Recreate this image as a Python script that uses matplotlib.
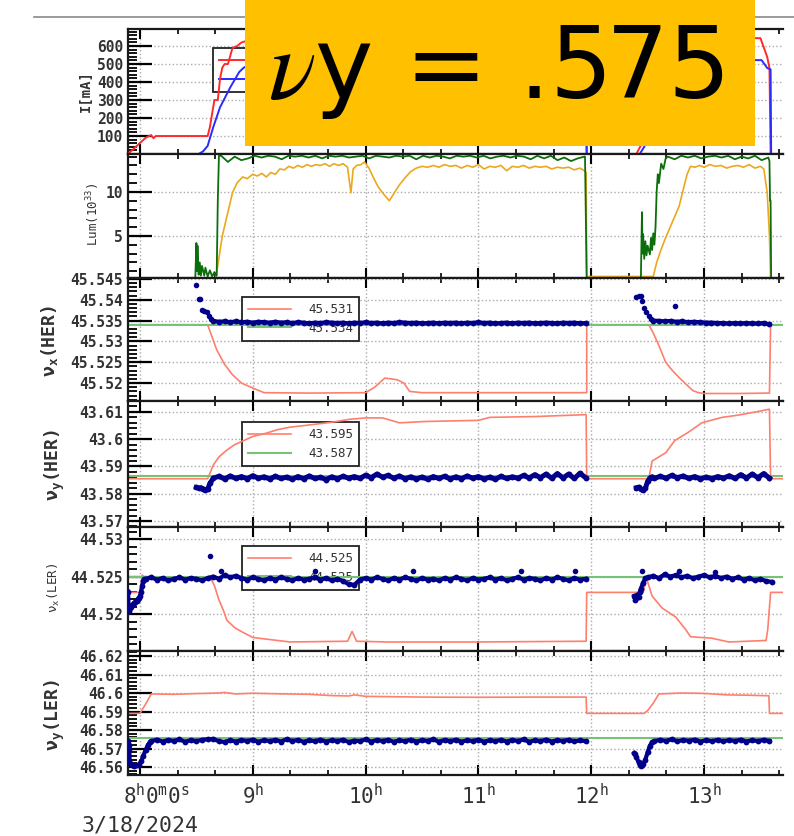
import matplotlib
matplotlib.use("Agg")
import matplotlib.pyplot as plt
import numpy as np
from matplotlib.patches import Rectangle
from matplotlib.lines import Line2D
from matplotlib.ticker import MultipleLocator, FuncFormatter

# ─── Data (time in hours on 3/18/2024) ─────────────────────────────────

# beam currents [mA]
ler_cur_t = [7.894, 8.05, 8.08, 8.10, 8.12, 8.14, 8.60, 8.62, 8.66, 8.69, 8.71, 8.73, 8.75,
             8.78, 8.82, 8.86, 8.90, 9.00, 9.5, 10.0, 11.0, 11.95, 11.96, 12.40, 12.45,
             12.50, 12.60, 12.70, 12.80, 13.00, 13.50, 13.56, 13.58, 13.59, 13.70]
ler_cur = [0, 90, 100, 105, 88, 100, 100, 150, 300, 300, 420, 480, 500,
           500, 590, 600, 620, 640, 645, 640, 642, 640, 0, 0, 60,
           200, 400, 560, 630, 645, 644, 540, 478, 0, 0]
her_cur_t = [7.894, 8.52, 8.56, 8.60, 8.65, 8.71, 8.80, 8.88, 8.92, 9.00, 10.0, 11.0, 11.95,
             11.96, 12.43, 12.47, 12.55, 12.65, 12.75, 12.85, 13.0, 13.51, 13.56, 13.59,
             13.595, 13.70]
her_cur = [0, 0, 15, 45, 150, 260, 370, 456, 480, 505, 522, 521, 520,
           0, 0, 40, 150, 300, 420, 500, 520, 522, 478, 470,
           0, 0]

# luminosity [1e33]
lum_orange_t = [7.894, 8.67, 8.70, 8.73, 8.77, 8.80, 8.82, 8.86, 8.91, 8.95, 9.00, 9.04, 9.08,
                9.12, 9.16, 9.20, 9.24, 9.28, 9.32, 9.36, 9.40, 9.44, 9.48, 9.52, 9.56, 9.60,
                9.64, 9.68, 9.72, 9.76, 9.80, 9.84, 9.87, 9.89, 9.92, 9.96, 9.99, 10.03, 10.07,
                10.11, 10.15, 10.19, 10.21, 10.25, 10.30, 10.35, 10.40, 10.45, 10.50, 10.55,
                10.60, 10.65, 10.70, 10.75, 10.80, 10.85, 10.90, 10.95, 11.00, 11.05, 11.10,
                11.15, 11.20, 11.25, 11.30, 11.35, 11.40, 11.45, 11.50, 11.55, 11.60, 11.65,
                11.70, 11.75, 11.80, 11.85, 11.90, 11.94, 11.955, 11.96, 12.55, 12.58, 12.62,
                12.66, 12.70, 12.74, 12.78, 12.82, 12.85, 12.88, 12.92, 12.96, 13.00, 13.05,
                13.10, 13.15, 13.20, 13.25, 13.30, 13.35, 13.40, 13.45, 13.50, 13.53, 13.56,
                13.58, 13.59, 13.70]
lum_orange = [0.0, 0.0, 2.5, 5.0, 7.2, 8.8, 9.9, 11.0, 11.7, 11.5, 12.0, 11.8, 12.1,
              11.7, 12.2, 12.0, 12.6, 12.5, 12.9, 12.7, 13.0, 12.8, 13.1, 12.9, 13.1, 13.0,
              13.2, 12.9, 13.2, 13.0, 13.2, 12.8, 9.9, 12.6, 13.0, 13.1, 13.4, 12.7, 11.6,
              10.6, 9.9, 9.3, 9.0, 9.8, 10.8, 11.6, 12.3, 12.7, 12.9, 12.8,
              13.0, 12.8, 13.1, 12.9, 13.0, 12.7, 13.0, 12.8, 13.1, 12.6, 12.9,
              12.8, 13.0, 12.4, 12.9, 12.8, 13.0, 12.7, 12.9, 12.8, 12.9, 12.6,
              12.8, 12.7, 12.8, 12.5, 12.7, 12.4, 12.2, 0.4, 0.4, 2.0, 3.5,
              4.8, 6.0, 7.2, 8.4, 10.5, 12.0, 12.9, 12.8, 13.0, 12.8, 13.1,
              12.9, 13.0, 12.7, 12.9, 13.0, 12.8, 13.1, 12.7, 12.9, 12.6, 9.9,
              5.0, 0.0, 0.0]
lum_green_t1 = [7.894, 8.49, 8.50, 8.505, 8.51, 8.52, 8.53, 8.54, 8.55, 8.57, 8.58, 8.60,
                8.62, 8.64, 8.66, 8.68, 8.69, 8.70]
lum_green_v1 = [0, 0, 4.2, 1.0, 3.9, 0.6, 2.0, 0.5, 1.6, 0.5, 1.4, 0.4,
                1.1, 0.4, 0.9, 0.5, 9.0, 14.1]
lum_green_a = [14.1, 13.4, 14.0, 13.6, 13.8, 14.1, 13.9, 14.1, 14.0, 13.7, 14.1, 14.0, 14.1,
               13.9, 14.1, 13.8, 14.1, 14.0, 14.1, 13.9, 14.0, 14.1, 13.8, 14.1, 14.0, 13.9,
               14.1, 14.0, 14.1, 13.7, 14.1, 13.9, 14.1, 14.0, 13.8, 14.1, 14.0, 14.1, 13.9,
               14.1, 13.8, 14.0, 14.1, 13.9, 14.1, 14.0, 13.7, 14.1, 13.8, 14.1, 13.6, 13.9,
               13.5, 13.8, 14.0]
lum_green_t2 = [11.945, 11.96, 12.44, 12.45, 12.455, 12.46, 12.47, 12.48, 12.49, 12.50,
                12.52, 12.53, 12.54, 12.55, 12.56, 12.57, 12.58, 12.59, 12.60, 12.62, 12.64,
                12.66]
lum_green_v2 = [14.0, 0, 0, 7.7, 3.0, 5.2, 2.4, 4.4, 2.8, 3.9,
                2.9, 4.8, 3.4, 5.3, 4.0, 6.0, 10.0, 12.0, 11.0, 13.2, 12.6,
                13.8]
lum_green_b = [14.0, 13.7, 14.1, 13.9, 14.1, 13.8, 14.0, 14.1, 13.9, 14.1, 13.7, 14.0,
               13.8, 14.1, 13.6, 13.9]
lum_green_t3 = [13.58, 13.585, 13.59, 13.595, 13.70]
lum_green_v3 = [13.5, 9.0, 9.0, 0, 0]

# nu_x(HER): set value (red), reference (green), measured (blue, offsets in 1e-4 from base)
her_nux_legend = ["45.531", "45.534"]
her_nux_ref = 45.534
her_nux_set_t = [7.894, 8.60, 8.64, 8.68, 8.75, 8.82, 8.90, 9.00, 9.10, 9.50, 10.00, 10.08,
                 10.17, 10.28, 10.34, 10.39, 10.50, 11.00, 11.96, 11.96, 12.51, 12.55, 12.60,
                 12.66, 12.72, 12.78, 12.85, 12.90, 12.95, 13.00, 13.30, 13.58, 13.59, 13.70]
her_nux_set = [45.534, 45.534, 45.531, 45.528, 45.5245, 45.522, 45.520, 45.5188, 45.5177,
               45.5176, 45.5177, 45.519, 45.5212, 45.5208, 45.520, 45.518, 45.5177, 45.5177,
               45.5177, 45.534, 45.534, 45.532, 45.529, 45.525, 45.523, 45.5213, 45.5195,
               45.5182, 45.5177, 45.5175, 45.5175, 45.5176, 45.534, 45.534]
her_nux_base = 45.534
her_nux_t1 = [8.50, 8.52, 8.53, 8.55, 8.57, 8.59, 8.61, 8.63, 12.40, 12.42, 12.44, 12.45,
              12.47, 12.49, 12.51, 12.53, 12.74]
her_nux_v1 = [95, 61, 62, 36, 34, 31, 22, 14, 67, 68, 69, 57,
              40, 30, 22, 14, 45]
her_nux_a = [9, 7, 8, 6, 8, 6, 7, 5, 7, 6, 5, 7, 5, 6, 4, 6, 5, 3, 5, 4,
             6, 5, 4, 5, 3, 5, 4, 6, 4, 5, 3, 5, 4, 6, 5, 4, 5, 3, 4, 5,
             3, 5, 4, 5, 3, 5, 4, 6, 4, 5, 3, 4, 5, 3, 5, 4, 5, 3, 4, 5,
             4, 3, 5, 4, 5, 3, 4]
her_nux_b = [10, 9, 8, 9, 7, 8, 6, 7, 6, 5, 5, 4, 4, 3, 4, 3, 4, 3, 3, 4, 1]

# nu_y(HER)
her_nuy_legend = ["43.595", "43.587"]
her_nuy_ref = 43.5865
her_nuy_set_t = [7.894, 8.60, 8.62, 8.65, 8.70, 8.77, 8.84, 8.91, 9.00, 9.12, 9.22, 9.33,
                 9.50, 9.70, 9.86, 10.00, 10.15, 10.30, 10.54, 11.00, 11.10, 11.50, 11.83,
                 11.955, 11.96, 12.51, 12.54, 12.60, 12.66, 12.74, 12.86, 12.98, 13.16, 13.30,
                 13.46, 13.58, 13.59, 13.70]
her_nuy_set = [43.5855, 43.5855, 43.5875, 43.5905, 43.5935, 43.596, 43.598, 43.5993, 43.601,
               43.6022, 43.6035, 43.6044, 43.6052, 43.6062, 43.6073, 43.6078, 43.6078,
               43.606, 43.6065, 43.6069, 43.608, 43.6083, 43.6088, 43.609, 43.5855, 43.5855,
               43.592, 43.5935, 43.595, 43.5995, 43.6025, 43.606, 43.608, 43.6088, 43.61,
               43.611, 43.5855, 43.5855]
her_nuy_base = 43.58
her_nuy_t1 = [8.50, 8.52, 8.54, 8.56, 8.58, 8.60, 8.62]
her_nuy_v1 = [23, 21, 22, 18, 13, 16, 38]
her_nuy_a = [57, 64, 54, 65, 56, 63, 55, 66, 57, 62, 54, 64, 56, 61, 53, 63, 55, 65, 56, 60,
             52, 62, 55, 64, 57, 63, 56, 68, 59, 72, 61, 67, 57, 65, 55, 62, 54, 61, 53, 63,
             56, 64, 54, 62, 55, 65, 57, 63, 54, 61, 53, 64, 56, 62, 57, 67, 58, 70, 59, 72,
             57, 74, 58, 72, 56, 75, 59]
her_nuy_t2 = [12.40, 12.42, 12.44, 12.46, 12.48, 12.50, 12.52, 12.54]
her_nuy_v2 = [22, 24, 17, 12, 20, 45, 58, 62]
her_nuy_b = [56, 64, 57, 67, 59, 65, 56, 63, 54, 61, 55, 63, 57, 66, 56, 70, 58, 72, 59, 74, 57]

# nu_x(LER)
ler_nux_legend = ["44.525", "44.525"]
ler_nux_ref = 44.525
ler_nux_set_t = [7.894, 8.00, 8.02, 8.05, 8.30, 8.63, 8.66, 8.70, 8.74, 8.77, 8.84, 8.91,
                 9.00, 9.33, 9.84, 9.88, 9.92, 10.2, 11.0, 11.955, 11.96, 12.46, 12.49,
                 12.54, 12.63, 12.75, 12.84, 12.88, 13.07, 13.22, 13.55, 13.565, 13.59, 13.70]
ler_nux_set = [44.5229, 44.5229, 44.5252, 44.5247, 44.5246, 44.5247, 44.5238, 44.5219,
               44.5205, 44.5192, 44.5182, 44.5176, 44.5169, 44.5163, 44.5164, 44.5177,
               44.5164, 44.5163, 44.5163, 44.5164, 44.5229, 44.5229, 44.5248, 44.5224,
               44.5208, 44.5196, 44.5179, 44.5170, 44.5168, 44.5163, 44.5165, 44.518,
               44.5229, 44.5229]
ler_nux_base = 44.52
ler_nux_t1 = [7.895, 7.90, 7.91, 7.92, 7.93, 7.94, 7.95, 7.96, 7.97, 7.98, 7.99, 8.00, 8.01,
              8.02, 8.03, 8.04]
ler_nux_v1 = [30, 4, 8, 10, 12, 13, 15, 16, 18, 20, 22, 24, 30, 38, 44, 47]
ler_nux_a = [47, 49, 46, 48, 45, 47, 49, 46, 48, 47, 45, 48, 50, 47, 52, 49, 51, 48, 46, 49,
             47, 45, 48, 46, 49, 47, 45, 48, 46, 47, 49, 46, 48, 45, 47, 44, 40, 39, 46, 48,
             46, 49, 47, 45, 48, 46, 49, 47, 45, 48, 46, 47, 45, 48, 46, 49, 47, 45, 48, 46,
             47, 49, 46, 48, 45, 47, 49, 46, 48, 47, 45, 48, 46, 49, 47, 45, 48, 46, 47]
ler_nux_t2 = [12.38, 12.39, 12.40, 12.41, 12.42, 12.43, 12.44, 12.46, 12.48]
ler_nux_v2 = [24, 19, 21, 26, 23, 29, 34, 42, 48]
ler_nux_b = [49, 51, 48, 53, 50, 52, 49, 51, 48, 50, 52, 49, 51, 48, 50, 47, 49, 46, 48, 45,
             47, 44, 43]
ler_nux_out_t = [8.62, 8.72, 9.55, 10.42, 11.38, 11.86, 12.45, 12.78, 13.10]
ler_nux_out = [77, 57, 57, 57, 57, 57, 58, 58, 56]

# nu_y(LER)
ler_nuy_ref = 46.5755
ler_nuy_set_t = [7.894, 8.00, 8.05, 8.10, 8.30, 8.50, 8.70, 8.75, 8.85, 9.00, 9.20, 9.50,
                 9.70, 9.85, 9.90, 10.00, 10.50, 11.00, 11.50, 11.955, 11.96, 12.47, 12.50,
                 12.55, 12.60, 12.80, 13.00, 13.20, 13.40, 13.575, 13.58, 13.70]
ler_nuy_set = [46.589, 46.589, 46.594, 46.5995, 46.5993, 46.5997, 46.6, 46.6003, 46.5995,
               46.5999, 46.5996, 46.5993, 46.5986, 46.5984, 46.599, 46.5982, 46.5978,
               46.5977, 46.5978, 46.5978, 46.589, 46.589, 46.5905, 46.5945, 46.5995, 46.6,
               46.5998, 46.599, 46.5988, 46.5985, 46.589, 46.589]
ler_nuy_base = 46.56
ler_nuy_t1 = [7.895, 7.90, 7.905, 7.91, 7.93, 7.95, 7.97, 7.99, 8.01, 8.03, 8.05, 8.07, 8.09]
ler_nuy_v1 = [140, 118, 95, 20, 10, 8, 10, 12, 30, 62, 92, 118, 136]
ler_nuy_a = [140, 148, 138, 146, 141, 149, 137, 145, 140, 147, 150, 152, 139, 136, 144, 138,
             146, 141, 148, 137, 145, 140, 147, 138, 150, 141, 146, 137, 144, 140, 148, 138,
             145, 141, 147, 136, 143, 140, 149, 138, 146, 141, 147, 137, 144, 140, 148, 138,
             145, 141, 150, 137, 146, 140, 147, 138, 144, 141, 148, 137, 145, 140, 147, 138,
             146, 141, 149, 137, 144, 140, 148, 138, 145, 141, 147, 139, 144, 140]
ler_nuy_t2 = [12.38, 12.39, 12.40, 12.42, 12.43, 12.44, 12.45, 12.46, 12.48, 12.50, 12.52, 12.54]
ler_nuy_v2 = [75, 68, 55, 25, 12, 8, 10, 15, 40, 80, 115, 135]
ler_nuy_b = [140, 147, 141, 150, 139, 146, 142, 148, 138, 145, 140, 147, 139, 146, 141, 148,
             138, 145, 140, 147, 141]

# ─── Style ─────────────────────────────────────────────────────────────

plt.rcParams.update({
    "font.family": "DejaVu Sans Mono",
    "mathtext.fontset": "custom",
    "mathtext.rm": "DejaVu Sans Mono",
    "mathtext.it": "DejaVu Sans Mono:italic",
    "mathtext.bf": "DejaVu Sans Mono:bold",
    "axes.linewidth": 1.6,
    "axes.edgecolor": "#1a1a1a",
})

RED = "#ff2a2a"
BLUE = "#2a2aff"
SALMON = "#ff7f6e"
LGREEN = "#78c278"
NAVY = "#00008b"
DGREEN = "#0b6e0b"
ORANGE = "#eba81e"
TXT = "#333333"

W, H = 794, 836
fig = plt.figure(figsize=(W / 100, H / 100), dpi=100)

rows = [(29, 154), (154, 278), (278, 401), (401, 527), (527, 651), (651, 775)]
axes = []
for top, bot in rows:
    ax = fig.add_axes([128 / W, 1 - bot / H, 655 / W, (bot - top) / H],
                      sharex=axes[0] if axes else None)
    axes.append(ax)


def style(ax, ylim, ticks, labels, minor):
    ax.set_xlim(7.894, 13.70)
    ax.set_ylim(*ylim)
    ax.set_yticks(ticks, labels, fontweight="bold", fontsize=10.5, color=TXT)
    ax.yaxis.set_minor_locator(MultipleLocator(minor))
    ax.xaxis.set_major_locator(MultipleLocator(1))
    ax.xaxis.set_minor_locator(MultipleLocator(1 / 3))
    ax.tick_params(axis="y", which="major", direction="in", length=17, width=1.6,
                   pad=3.5, right=False)
    ax.tick_params(axis="y", which="minor", direction="in", length=6.5, width=1.3,
                   right=False)
    ax.tick_params(axis="x", which="major", direction="in", length=7, width=1.5,
                   top=True, bottom=True, labelbottom=False)
    ax.tick_params(axis="x", which="minor", direction="in", length=3.5, width=1.2,
                   top=True, bottom=True)
    ax.spines["right"].set_visible(False)
    ax.grid(True, which="major", ls=":", color="#aaaaaa", lw=1)
    ax.set_axisbelow(True)


def legend(ax, x, y, handles=None, labels=None):
    args = (handles, labels) if handles is not None else ()
    leg = ax.legend(*args, loc="upper left", bbox_to_anchor=(x, y), borderaxespad=0,
                    frameon=True, fancybox=False, framealpha=1, edgecolor="#222222",
                    prop={"size": 9}, handlelength=3.4, handletextpad=1.4,
                    borderpad=0.5, labelspacing=0.45, labelcolor=TXT)
    leg.get_frame().set_linewidth(1.3)
    leg.set_zorder(1)


def tune(ax, base, t1, v1, a, ta, t2, v2, b, tb, lw=3.0):
    kw = dict(color=NAVY, lw=lw, marker="o", ms=4.2, mew=0, zorder=3)
    off = lambda v: base + 1e-4 * np.asarray(v, dtype=float)
    ax.plot(list(t1) + list(ta), np.concatenate([off(v1), off(a)]), **kw)
    ax.plot(list(t2) + list(tb), np.concatenate([off(v2), off(b)]), **kw)


# Panel 1: currents (drawn over the spine, as in the original)
ax = axes[0]
l1, = ax.plot(ler_cur_t, ler_cur, color=RED, lw=1.4, zorder=3)
l2, = ax.plot(her_cur_t, her_cur, color=BLUE, lw=1.4, zorder=3.1)
style(ax, (0, 695), [100, 200, 300, 400, 500, 600],
      ["100", "200", "300", "400", "500", "600"], 20)
legend(ax, 0.13, 0.848, [l1, l2], [" ", " "])

# Panel 2: luminosity
ax = axes[1]
ax.plot(lum_orange_t, lum_orange, color=ORANGE, lw=1.2)
lg_t = (lum_green_t1 + list(np.linspace(8.72, 11.94, len(lum_green_a))) + lum_green_t2
        + list(np.linspace(12.68, 13.57, len(lum_green_b))) + lum_green_t3)
lg_v = lum_green_v1 + lum_green_a + lum_green_v2 + lum_green_b + lum_green_v3
ax.plot(lg_t, lg_v, color=DGREEN, lw=1.3)
style(ax, (0.23, 14.3), [5, 10], ["5", "10"], 1)

# Panel 3: nu_x(HER)
ax = axes[2]
ax.plot(her_nux_set_t, her_nux_set, color=SALMON, lw=1.2, zorder=2, label=her_nux_legend[0])
ax.axhline(her_nux_ref, color=LGREEN, lw=1.5, zorder=2.2, label=her_nux_legend[1])
ax.plot(her_nux_t1, her_nux_base + 1e-4 * np.array(her_nux_v1), "o", color=NAVY,
        ms=4.0, mew=0, zorder=3)
tune(ax, her_nux_base, [], [], her_nux_a, np.linspace(8.65, 11.95, len(her_nux_a)),
     [], [], her_nux_b, np.linspace(12.55, 13.58, len(her_nux_b)))
style(ax, (45.5157, 45.5452), [45.52, 45.525, 45.53, 45.535, 45.54, 45.545],
      ["45.52", "45.525", "45.53", "45.535", "45.54", "45.545"], 0.001)
legend(ax, 0.174, 0.846)

# Panel 4: nu_y(HER)
ax = axes[3]
ax.plot(her_nuy_set_t, her_nuy_set, color=SALMON, lw=1.2, zorder=2, label=her_nuy_legend[0])
ax.axhline(her_nuy_ref, color=LGREEN, lw=1.5, zorder=2.2, label=her_nuy_legend[1])
tune(ax, her_nuy_base, her_nuy_t1, her_nuy_v1, her_nuy_a,
     np.linspace(8.65, 11.95, len(her_nuy_a)), her_nuy_t2, her_nuy_v2, her_nuy_b,
     np.linspace(12.56, 13.58, len(her_nuy_b)), lw=3.6)
style(ax, (43.5678, 43.614), [43.57, 43.58, 43.59, 43.6, 43.61],
      ["43.57", "43.58", "43.59", "43.6", "43.61"], 0.002)
legend(ax, 0.174, 0.833)

# Panel 5: nu_x(LER)
ax = axes[4]
ax.plot(ler_nux_set_t, ler_nux_set, color=SALMON, lw=1.2, zorder=2, label=ler_nux_legend[0])
ax.axhline(ler_nux_ref, color=LGREEN, lw=1.5, zorder=2.2, label=ler_nux_legend[1])
tune(ax, ler_nux_base, ler_nux_t1, ler_nux_v1, ler_nux_a,
     np.linspace(8.05, 11.95, len(ler_nux_a)), ler_nux_t2, ler_nux_v2, ler_nux_b,
     np.linspace(12.50, 13.60, len(ler_nux_b)))
ax.plot(ler_nux_out_t, ler_nux_base + 1e-4 * np.array(ler_nux_out), "o", color=NAVY,
        ms=4.0, mew=0, zorder=3)
style(ax, (44.5151, 44.5316), [44.52, 44.525, 44.53], ["44.52", "44.525", "44.53"], 0.001)
legend(ax, 0.174, 0.847)

# Panel 6: nu_y(LER)
ax = axes[5]
ax.plot(ler_nuy_set_t, ler_nuy_set, color=SALMON, lw=1.2, zorder=2)
ax.axhline(ler_nuy_ref, color=LGREEN, lw=1.5, zorder=2.2)
tune(ax, ler_nuy_base, ler_nuy_t1, ler_nuy_v1, ler_nuy_a,
     np.linspace(8.10, 11.95, len(ler_nuy_a)), ler_nuy_t2, ler_nuy_v2, ler_nuy_b,
     np.linspace(12.56, 13.58, len(ler_nuy_b)))
style(ax, (46.5557, 46.6227), [46.56, 46.57, 46.58, 46.59, 46.6, 46.61, 46.62],
      ["46.56", "46.57", "46.58", "46.59", "46.6", "46.61", "46.62"], 0.002)

# bottom time axis
ax.xaxis.set_major_formatter(FuncFormatter(
    lambda v, p: "" if round(v) == 8 else rf"${int(round(v))}^{{\mathrm{{h}}}}$"))
ax.tick_params(axis="x", which="major", labelbottom=True, labelsize=15,
               labelcolor=TXT, pad=5.5)
ax.annotate(r"$8^{\mathrm{h}}0^{\mathrm{m}}0^{\mathrm{s}}$", xy=(8.0, 0),
            xycoords=ax.get_xaxis_transform(), xytext=(12, -5.5),
            textcoords="offset points", ha="center", va="top", fontsize=15, color=TXT)
ax.annotate("3/18/2024", xy=(8.0, 0), xycoords=ax.get_xaxis_transform(),
            xytext=(0, -41), textcoords="offset points", ha="center", va="baseline",
            fontsize=15.5, color=TXT)

# y labels
ylabels = [
    ("I[mA]", "bold", 10, -0.053, 0.50),
    ("Lum(10$^{33}$)", "normal", 9, -0.040, 0.51),
    (r"ν$_\mathbf{x}$(HER)", "bold", 13, -0.104, 0.49),
    (r"ν$_\mathbf{y}$(HER)", "bold", 13, -0.093, 0.49),
    (r"ν$_\mathrm{x}$(LER)", "normal", 9, -0.101, 0.51),
    (r"ν$_\mathbf{y}$(LER)", "bold", 13, -0.093, 0.48),
]
for ax, (txt, wt, sz, x, y) in zip(axes, ylabels):
    ax.set_ylabel(txt, fontweight=wt, fontsize=sz, color=TXT)
    ax.yaxis.set_label_coords(x, y)

# screenshot rule line and the orange annotation box
fig.add_artist(Line2D([34 / W, 1], [1 - 17 / H, 1 - 17 / H], transform=fig.transFigure,
                      color="#8a8a8a", lw=1.2))
fig.add_artist(Rectangle((245 / W, 1 - 146 / H), 510 / W, 146 / H, transform=fig.transFigure,
                         facecolor="#ffc000", edgecolor="none", zorder=10))
fig.text(496 / W, 1 - 98 / H, r"$\nu$y = .575", fontsize=71, family="DejaVu Sans",
         math_fontfamily="stix", ha="center", va="baseline", color="black", zorder=11)

fig.savefig("out.png", dpi=100)
